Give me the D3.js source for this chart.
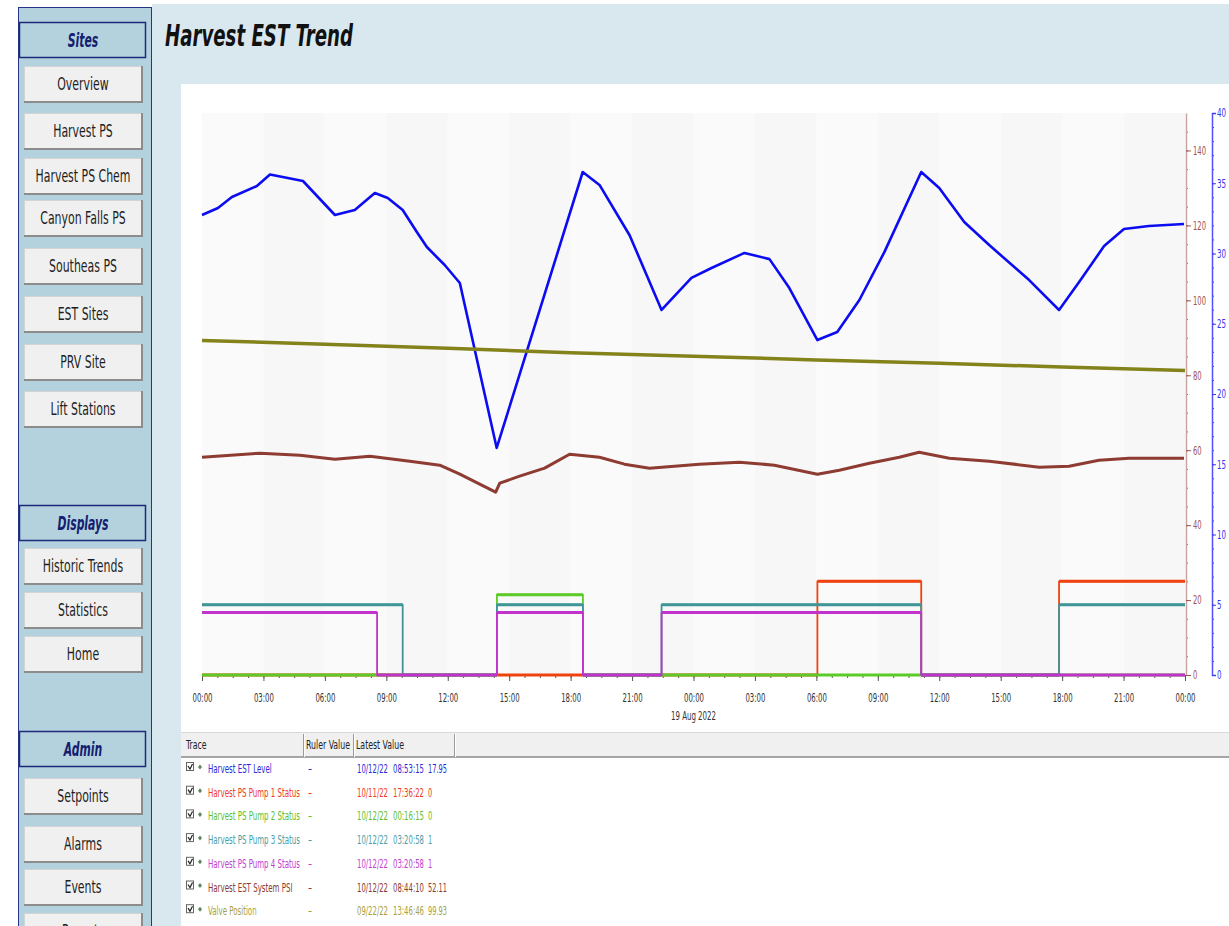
<!DOCTYPE html>
<html><head><meta charset="utf-8">
<script src="https://cdn.jsdelivr.net/npm/d3@7"></script>
<style>body{margin:0;background:#fff;overflow:hidden} svg{display:block}</style>
</head><body><svg id="c" width="1229" height="926"></svg>
<script>
// ---------------- DATA ----------------
const sitesButtons = ["Overview","Harvest PS","Harvest PS Chem","Canyon Falls PS","Southeas PS","EST Sites","PRV Site","Lift Stations"];
const displaysButtons = ["Historic Trends","Statistics","Home"];
const adminButtons = ["Setpoints","Alarms","Events","Reports"];
const sectionTitles = ["Sites","Displays","Admin"];
const chartTitle = "Harvest EST Trend";
const dateLabel = "19 Aug 2022";

const psiTicks = [0,20,40,60,80,100,120,140];
const levelTicks = [0,5,10,15,20,25,30,35,40];

// [hours since 18 Aug 2022 00:00, value]
const levelSeries = [[0,32.74],[0.78,33.24],[1.46,34.02],[2.68,34.8],[3.32,35.62],[4.93,35.16],[6.49,32.74],[7.46,33.1],[8.44,34.3],[9.07,33.95],[9.8,33.1],[10.49,31.53],[10.98,30.46],[11.85,29.18],[12.59,27.9],[14.39,16.16],[18.59,35.8],[19.41,34.88],[20.88,31.3],[22.44,25.98],[23.9,28.26],[24.88,28.97],[26.49,30.04],[27.71,29.6],[28.68,27.54],[30.05,23.84],[31.02,24.41],[32.1,26.69],[33.32,30.1],[35.12,35.8],[36.0,34.66],[37.22,32.24],[38.44,30.6],[40.39,28.11],[41.85,25.98],[42.83,27.97],[44.05,30.53],[45.02,31.74],[46.24,31.96],[47.95,32.1]];
const pump1Series = [[0,0],[30.05,1],[35.12,0],[41.85,1],[48,1]];
const pump2Series = [[0,0],[14.4,1],[18.6,0],[48,0]];
const pump3Series = [[0,1],[9.8,0],[14.4,1],[18.6,0],[22.44,1],[35.12,0],[41.85,1],[48,1]];
const pump4Series = [[0,1],[8.55,0],[14.4,1],[18.6,0],[22.44,1],[35.12,0],[48,0]];
const pumpScaleMax = [6,7,8,9];
const psiSeries = [[0,58.13],[2.83,59.2],[4.78,58.67],[6.49,57.6],[8.2,58.4],[10.15,57.07],[11.61,56.0],[12.59,53.6],[13.56,50.93],[14.34,48.8],[14.54,51.2],[15.51,53.07],[16.73,55.2],[17.95,58.93],[19.41,58.13],[20.63,56.27],[21.85,55.2],[24.29,56.27],[26.24,56.8],[27.95,56.0],[30.05,53.6],[31.12,54.67],[32.59,56.53],[34.05,58.13],[35.02,59.47],[36.49,57.87],[38.44,57.07],[40.88,55.47],[42.34,55.73],[43.8,57.33],[45.27,57.87],[47.95,57.87]];
const valveSeries = [[0,89.3],[6,88.3],[12,87.2],[18,86.0],[24,85.1],[30,84.1],[36,83.2],[42,82.2],[48,81.3]];

const traceNames = ["Harvest EST Level","Harvest PS Pump 1 Status","Harvest PS Pump 2 Status","Harvest PS Pump 3 Status","Harvest PS Pump 4 Status","Harvest EST System PSI","Valve Position"];
const latestDates = ["10/12/22","10/11/22","10/12/22","10/12/22","10/12/22","10/12/22","09/22/22"];
const latestTimes = ["08:53:15","17:36:22","00:16:15","03:20:58","03:20:58","08:44:10","13:46:46"];
const latestValues = ["17.95","0","0","1","1","52.11","99.93"];
const tableHeaders = ["Trace","Ruler Value","Latest Value"];

// ---------------- STYLES ----------------
const lineColors = ["#0c0cf2","#f0420e","#5ccb28","#409696","#c232cc","#8e3b32","#84821a"];
const textColors = ["#2a2ad6","#ee3a24","#5cc030","#4a9ea6","#c040d0","#8a3a32","#a8a040"];
const FONT = '"DejaVu Sans Condensed","DejaVu Sans",sans-serif';

// squeeze a group of texts horizontally so that a reference string gets a target width
function fitGroup(sel, refText, targetW){
  let f = null;
  sel.each(function(){ if (this.textContent === refText) f = targetW / this.getComputedTextLength(); });
  if (f === null) return;
  sel.each(function(){
    const w = this.getComputedTextLength();
    this.setAttribute("textLength", w*f);
    this.setAttribute("lengthAdjust","spacingAndGlyphs");
  });
}

// ---------------- DRAW ----------------
const svg = d3.select("#c").style("font-family", FONT);
svg.append("rect").attr("width",1229).attr("height",926).attr("fill","#fff");
svg.append("rect").attr("x",152).attr("y",4).attr("width",1077).attr("height",922).attr("fill","#d9e8ef");

// sidebar
svg.append("rect").attr("x",18.5).attr("y",7.5).attr("width",133).attr("height",930)
  .attr("fill","#b3d2de").attr("stroke","#26358a").attr("stroke-width",1);

function section(y, label){
  svg.append("rect").attr("x",19.5).attr("y",y+0.5).attr("width",126).attr("height",35)
    .attr("fill","#b3d2de").attr("stroke","#1d2a7a").attr("stroke-width",1.5);
  svg.append("text").attr("class","sec").attr("x",83).attr("y",y+18).attr("dy","0.36em").attr("text-anchor","middle")
    .attr("font-size",19).attr("font-weight","bold").attr("font-style","italic").attr("fill","#14206e").text(label);
}
function button(y, label){
  const g = svg.append("g");
  g.append("rect").attr("x",24).attr("y",y).attr("width",118).attr("height",36).attr("fill","#f0f0f0");
  g.append("line").attr("x1",24).attr("x2",142).attr("y1",y+0.5).attr("y2",y+0.5).attr("stroke","#d4d4d4");
  g.append("line").attr("x1",24.5).attr("x2",24.5).attr("y1",y).attr("y2",y+36).attr("stroke","#d4d4d4");
  g.append("line").attr("x1",24).attr("x2",143).attr("y1",y+36).attr("y2",y+36).attr("stroke","#8c8c8c").attr("stroke-width",2);
  g.append("line").attr("x1",142).attr("x2",142).attr("y1",y).attr("y2",y+37).attr("stroke","#8c8c8c").attr("stroke-width",2);
  g.append("text").attr("class","btn").attr("x",83).attr("y",y+18).attr("dy","0.36em").attr("text-anchor","middle")
    .attr("font-size",18).attr("fill","#1e1e1e").text(label);
}
section(22, sectionTitles[0]);
const sitesY = [66,113,158,200,248,296,344,391];
sitesButtons.forEach((b,i)=>button(sitesY[i], b));
section(505, sectionTitles[1]);
const dispY = [548,592,636];
displaysButtons.forEach((b,i)=>button(dispY[i], b));
section(731, sectionTitles[2]);
const adminY = [778,826,869,913];
adminButtons.forEach((b,i)=>button(adminY[i], b));
fitGroup(svg.selectAll("text.btn"), "Harvest PS Chem", 95);
fitGroup(svg.selectAll("text.sec"), "Displays", 51);

// title
svg.append("text").attr("x",165).attr("y",46).attr("font-size",30).attr("font-weight","bold")
  .attr("font-style","italic").attr("fill","#111").attr("textLength",188).attr("lengthAdjust","spacingAndGlyphs").text(chartTitle);

// chart panel
svg.append("rect").attr("x",181).attr("y",84).attr("width",1048).attr("height",648).attr("fill","#fff");

const X0 = 202, X1 = 1185, YT = 113, YB = 675;
const t0 = Date.UTC(2022,7,18);
const toDate = h => new Date(t0 + h*3600e3);
const x = d3.scaleUtc().domain([toDate(0), toDate(48)]).range([X0, X1]);
const yPsi = d3.scaleLinear().domain([0,150]).range([YB, YT]);
const yLevel = d3.scaleLinear().domain([0,40]).range([YB, YT]);
const yPump = pumpScaleMax.map(m => d3.scaleLinear().domain([0,m]).range([YB, YT]));

// background bands (3-hour)
const bandStarts = d3.range(0, 48, 3);
svg.append("g").selectAll("rect").data(bandStarts).join("rect")
  .attr("x", d=>x(toDate(d))).attr("y",YT).attr("width", d=>x(toDate(d+3))-x(toDate(d))).attr("height",YB-YT)
  .attr("fill",(d,i)=> i%2 ? "#f7f7f7" : "#fafafa");

// axes
const majorHours = d3.range(0, 48.01, 3).map(toDate);
const minorHours = d3.range(0, 48.01, 0.75).map(toDate);
const gx = svg.append("g").attr("transform",`translate(0,${YB})`);
gx.call(d3.axisBottom(x).tickValues(minorHours).tickSize(3).tickFormat(""))
  .call(g=>g.select(".domain").remove()).call(g=>g.selectAll("line").attr("stroke","#555"));
const gx2 = svg.append("g").attr("transform",`translate(0,${YB})`);
gx2.call(d3.axisBottom(x).tickValues(majorHours).tickSize(6).tickPadding(12).tickFormat(d3.utcFormat("%H:%M")))
  .call(g=>g.select(".domain").attr("stroke","#888"))
  .call(g=>g.selectAll("line").attr("stroke","#555"))
  .call(g=>g.selectAll("text").attr("font-size",12).attr("fill","#333").style("font-family",FONT));
fitGroup(gx2.selectAll("text"), "00:00", 20);
const dl = svg.append("text").attr("x", x(toDate(24))).attr("y",720).attr("text-anchor","middle")
  .attr("font-size",12).attr("fill","#333").text(dateLabel);
fitGroup(dl, dateLabel, 45);

const gp = svg.append("g").attr("transform",`translate(${X1+1},0)`);
gp.call(d3.axisRight(yPsi).tickValues(d3.range(0,150,5)).tickSize(2).tickFormat(""))
  .call(g=>g.select(".domain").remove()).call(g=>g.selectAll("line").attr("stroke","#a0524c"));
const gp2 = svg.append("g").attr("transform",`translate(${X1+1},0)`);
gp2.call(d3.axisRight(yPsi).tickValues(psiTicks).tickSize(5).tickSizeOuter(0).tickPadding(2))
  .call(g=>g.select(".domain").attr("stroke","#c8a4a0").attr("stroke-width",1.5))
  .call(g=>g.selectAll("line").attr("stroke","#a0524c"))
  .call(g=>g.selectAll("text").attr("font-size",12).attr("fill","#a0524c").style("font-family",FONT));
fitGroup(gp2.selectAll("text"), "140", 13);

const gl = svg.append("g").attr("transform",`translate(1212,0)`);
gl.call(d3.axisRight(yLevel).tickValues(d3.range(0,41,1)).tickSize(2).tickFormat(""))
  .call(g=>g.select(".domain").remove()).call(g=>g.selectAll("line").attr("stroke","#3a3aff"));
const gl2 = svg.append("g").attr("transform",`translate(1212,0)`);
gl2.call(d3.axisRight(yLevel).tickValues(levelTicks).tickSize(4).tickSizeOuter(4).tickPadding(1))
  .call(g=>g.select(".domain").attr("stroke","#5050ff").attr("stroke-width",1.5))
  .call(g=>g.selectAll("line").attr("stroke","#3a3aff"))
  .call(g=>g.selectAll("text").attr("font-size",12).attr("fill","#3434f0").style("font-family",FONT));
fitGroup(gl2.selectAll("text"), "35", 9);

// series
const lineFor = (ys, curve) => d3.line().x(d=>x(toDate(d[0]))).y(d=>ys(d[1])).curve(curve || d3.curveLinear);
const plot = svg.append("g").attr("fill","none").attr("stroke-linejoin","round");
plot.append("path").datum(levelSeries).attr("d", lineFor(yLevel)).attr("stroke",lineColors[0]).attr("stroke-width",2.6);
[pump1Series,pump2Series,pump3Series,pump4Series].forEach((s,i)=>{
  const ys = yPump[i];
  const g = plot.append("g");
  g.append("path").datum(s).attr("d", lineFor(ys, d3.curveStepAfter))
    .attr("stroke",lineColors[i+1]).attr("stroke-width",1.8);
  // heavier horizontal runs
  g.selectAll("line").data(d3.pairs(s)).join("line")
    .attr("x1", d=>x(toDate(d[0][0]))).attr("x2", d=>x(toDate(d[1][0])))
    .attr("y1", d=>ys(d[0][1])).attr("y2", d=>ys(d[0][1]))
    .attr("stroke",lineColors[i+1]).attr("stroke-width",3);
});
plot.append("path").datum(psiSeries).attr("d", lineFor(yPsi)).attr("stroke",lineColors[5]).attr("stroke-width",3);
plot.append("path").datum(valveSeries).attr("d", lineFor(yPsi)).attr("stroke",lineColors[6]).attr("stroke-width",3.5);

// table
const TY = 732;
svg.append("rect").attr("x",181).attr("y",TY).attr("width",1048).attr("height",194).attr("fill","#fff");
svg.append("rect").attr("x",181).attr("y",TY).attr("width",1048).attr("height",25).attr("fill","#f0f0f0");
svg.append("line").attr("x1",181).attr("x2",1229).attr("y1",TY+0.5).attr("y2",TY+0.5).attr("stroke","#d8d8d8");
svg.append("line").attr("x1",181).attr("x2",1229).attr("y1",TY+25).attr("y2",TY+25).attr("stroke","#8a8a8a").attr("stroke-width",1.5);
[303,353,454].forEach(sx=>{
  svg.append("line").attr("x1",sx+0.5).attr("x2",sx+0.5).attr("y1",TY+2).attr("y2",TY+25).attr("stroke","#9a9a9a");
  svg.append("line").attr("x1",sx+1.5).attr("x2",sx+1.5).attr("y1",TY+2).attr("y2",TY+25).attr("stroke","#fff");
});
const headX = [186,306,356];
tableHeaders.forEach((h,i)=>svg.append("text").attr("class","th").attr("x",headX[i]).attr("y",TY+17).attr("font-size",12.5).attr("fill","#222").text(h));
fitGroup(svg.selectAll("text.th"), "Ruler Value", 44);

traceNames.forEach((n,i)=>{
  const by = 773 + i*23.7;
  const g = svg.append("g");
  g.append("rect").attr("x",186.5).attr("y",by-10.5).attr("width",7).attr("height",8).attr("fill","#fff").attr("stroke","#666");
  g.append("path").attr("d",`M188,${by-7} l2,3 l2.5,-5`).attr("fill","none").attr("stroke","#222").attr("stroke-width",1.2);
  g.append("path").attr("d",`M200,${by-8.5} l2,2.5 l-2,2.5 l-2,-2.5z`).attr("fill","#5a8a5a");
  g.append("text").attr("class","tn").attr("x",208).attr("y",by).attr("font-size",12.5).attr("fill",textColors[i]).text(n);
  g.append("text").attr("x",308).attr("y",by).attr("font-size",12.5).attr("fill",textColors[i]).text("-");
  g.append("text").attr("class","td").attr("x",357).attr("y",by).attr("font-size",12.5).attr("fill",textColors[i]).text(latestDates[i]);
  g.append("text").attr("class","tt").attr("x",393).attr("y",by).attr("font-size",12.5).attr("fill",textColors[i]).text(latestTimes[i]);
  g.append("text").attr("class","tv").attr("x",428).attr("y",by).attr("font-size",12.5).attr("fill",textColors[i]).text(latestValues[i]);
});
fitGroup(svg.selectAll("text.tn"), "Harvest PS Pump 1 Status", 92);
fitGroup(svg.selectAll("text.td"), "10/12/22", 31);
fitGroup(svg.selectAll("text.tt"), "08:53:15", 31);
fitGroup(svg.selectAll("text.tv"), "17.95", 19);
</script></body></html>
